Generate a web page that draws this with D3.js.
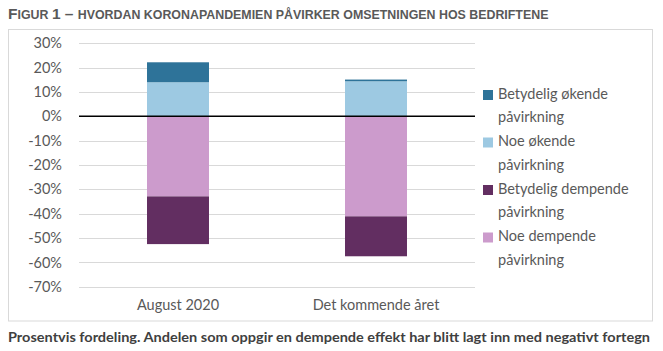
<!DOCTYPE html>
<html><head><meta charset="utf-8">
<script src="https://cdn.jsdelivr.net/npm/d3@7"></script>
<style>body{margin:0;background:#fff}svg{display:block}</style>
</head><body>
<script>
const categories = ["August 2020", "Det kommende året"];
const noeOkende = [14.0, 14.4];
const betydeligOkende = [8.2, 0.7];
const noeDempende = [-32.9, -41.1];
const betydeligDempende = [-19.6, -16.4];
const yTicks = [30, 20, 10, 0, -10, -20, -30, -40, -50, -60, -70];
const seriesKeys = ["noeOkende", "betydeligOkende", "noeDempende", "betydeligDempende"];
const seriesColors = {noeOkende: "#9DC9E2", betydeligOkende: "#2E7399", noeDempende: "#CC9BCC", betydeligDempende: "#622E61"};
const legendItems = [
  {key: "betydeligOkende", lines: ["Betydelig økende", "påvirkning"]},
  {key: "noeOkende", lines: ["Noe økende", "påvirkning"]},
  {key: "betydeligDempende", lines: ["Betydelig dempende", "påvirkning"]},
  {key: "noeDempende", lines: ["Noe dempende", "påvirkning"]}
];

const rows = categories.map((c, i) => ({
  cat: c, noeOkende: noeOkende[i], betydeligOkende: betydeligOkende[i],
  noeDempende: noeDempende[i], betydeligDempende: betydeligDempende[i]
}));

const W = 663, H = 351;
const svg = d3.select("body").append("svg").attr("width", W).attr("height", H);

// chart box
svg.append("rect").attr("x", 8.5).attr("y", 29.5).attr("width", 644).attr("height", 291.5)
  .attr("fill", "none").attr("stroke", "#D9D9D9").attr("stroke-width", 1);

// title
const title = svg.append("text").attr("x", 8).attr("y", 19)
  .attr("font-family", "'Liberation Sans Narrow', 'Arial Narrow', sans-serif")
  .attr("font-weight", "bold").attr("fill", "#595959");
title.append("tspan").attr("font-size", 15.5).text("F");
title.append("tspan").attr("font-size", 12.4).text("IGUR ");
title.append("tspan").attr("font-size", 15.5).text("1 – ");
title.append("tspan").attr("font-size", 12.4).text("HVORDAN KORONAPANDEMIEN PÅVIRKER OMSETNINGEN HOS BEDRIFTENE");

const x = d3.scaleBand().domain(categories).range([79, 475]).paddingInner(0.687).paddingOuter(0.3435);
const y = d3.scaleLinear().domain([-70, 30]).range([286.7, 43.3]);

// gridlines
svg.append("g").selectAll("line").data(yTicks.filter(d => d !== 0)).join("line")
  .attr("x1", 79).attr("x2", 475)
  .attr("y1", d => Math.round(y(d)) + 0.5).attr("y2", d => Math.round(y(d)) + 0.5)
  .attr("stroke", "#D9D9D9").attr("stroke-width", 1);

// y axis labels
const yAxis = d3.axisLeft(y).tickValues(yTicks).tickFormat(d => d + "%").tickSize(0).tickPadding(0);
const ya = svg.append("g").attr("transform", "translate(62,0)").call(yAxis);
ya.select(".domain").remove();
ya.selectAll("text").attr("font-family", "Lato, 'Open Sans', sans-serif").attr("font-size", 14.5)
  .attr("fill", "#595959");

// stacks
const stack = d3.stack().keys(seriesKeys).offset(d3.stackOffsetDiverging);
const series = stack(rows);
svg.append("g").selectAll("g").data(series).join("g")
  .attr("fill", s => seriesColors[s.key])
  .selectAll("rect").data(s => s).join("rect")
  .attr("x", d => x(d.data.cat))
  .attr("width", x.bandwidth())
  .attr("y", d => y(Math.max(d[0], d[1])))
  .attr("height", d => Math.abs(y(d[0]) - y(d[1])));

// zero line
svg.append("line").attr("x1", 79).attr("x2", 475).attr("y1", y(0)).attr("y2", y(0))
  .attr("stroke", "#000").attr("stroke-width", 1.5);

// x axis labels
const xAxis = d3.axisBottom(x).tickSize(0).tickPadding(0);
const xa = svg.append("g").attr("transform", "translate(0,300)").call(xAxis);
xa.select(".domain").remove();
xa.selectAll("text").attr("font-family", "Lato, 'Open Sans', sans-serif").attr("font-size", 14.5)
  .attr("fill", "#595959");

// legend
const lg = svg.append("g");
legendItems.forEach((it, i) => {
  const by = 98.5 + i * 47.5;
  lg.append("rect").attr("x", 483).attr("y", by - 8.5).attr("width", 10).attr("height", 10)
    .attr("fill", seriesColors[it.key]);
  it.lines.forEach((ln, j) => {
    lg.append("text").attr("x", 498).attr("y", by + j * 23.7)
      .attr("font-family", "Lato, 'Open Sans', sans-serif").attr("font-size", 14.5)
      .attr("fill", "#595959").text(ln);
  });
});

// footer
svg.append("text").attr("x", 8).attr("y", 341.5)
  .attr("font-family", "Lato, 'Open Sans', sans-serif").attr("font-weight", "bold")
  .attr("font-size", 13.5).attr("fill", "#404040")
  .attr("textLength", 642).attr("lengthAdjust", "spacingAndGlyphs")
  .text("Prosentvis fordeling. Andelen som oppgir en dempende effekt har blitt lagt inn med negativt fortegn");
</script>
</body></html>
